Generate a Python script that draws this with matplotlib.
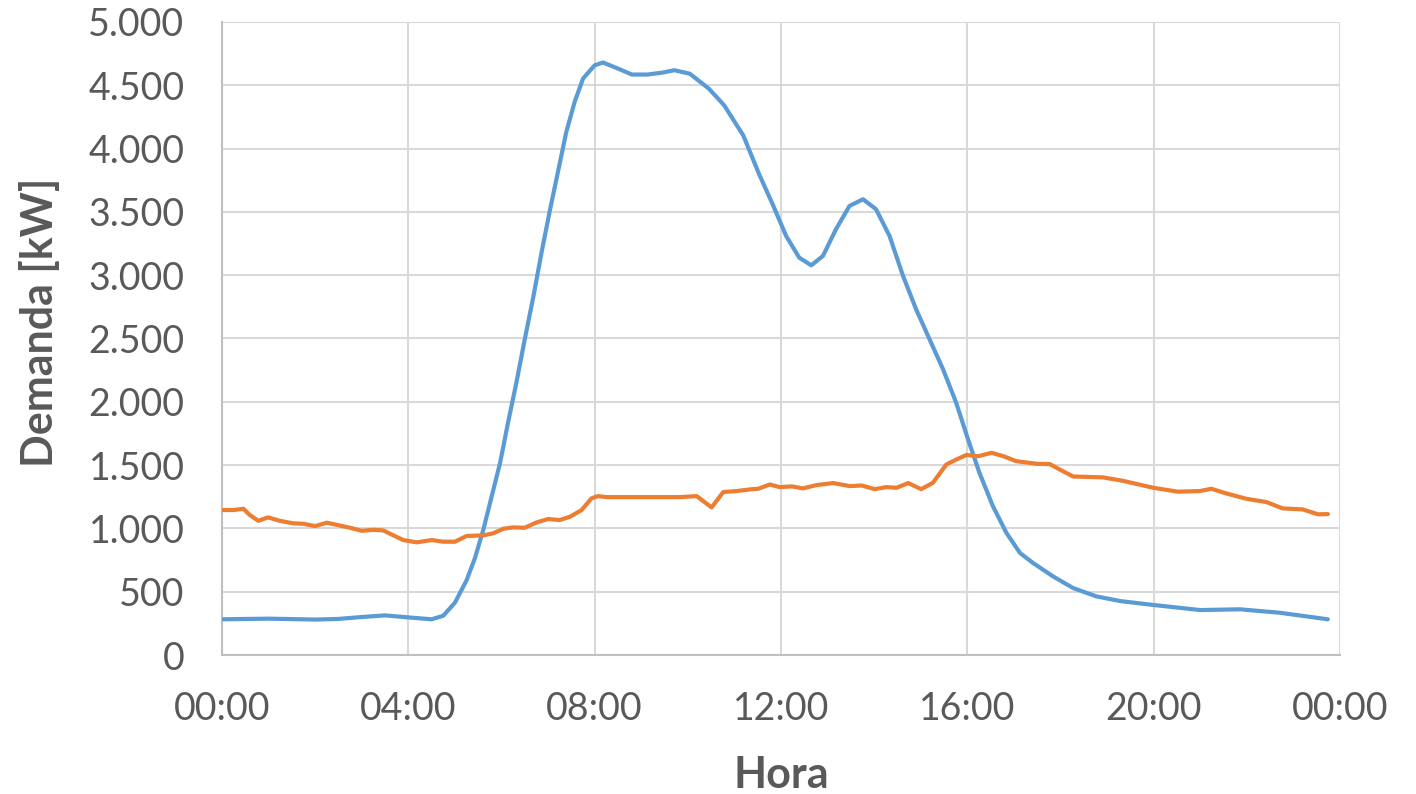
import matplotlib
matplotlib.use("Agg")
import matplotlib.pyplot as plt
from matplotlib.ticker import FuncFormatter

# Blue series (hours, kW)
blue_t = [0.0, 1.0, 2.0, 2.5, 3.0, 3.5, 4.0, 4.5, 4.75, 5.0, 5.25, 5.43, 5.61,
          5.79, 5.97, 6.14, 6.32, 6.5, 6.68, 6.86, 7.03, 7.21, 7.39, 7.57, 7.75,
          8.0, 8.18, 8.5, 8.8, 9.13, 9.45, 9.71, 10.04, 10.45, 10.78, 11.19,
          11.53, 11.82, 12.11, 12.39, 12.65, 12.9, 13.18, 13.47, 13.76, 14.04,
          14.33, 14.62, 14.9, 15.19, 15.48, 15.76, 16.0, 16.26, 16.55, 16.84,
          17.13, 17.41, 17.84, 18.27, 18.77, 19.3, 20.0, 21.0, 21.85, 22.7, 23.74]
blue_v = [282, 287, 280, 285, 300, 313, 297, 282, 310, 413, 590, 766, 990,
          1254, 1518, 1835, 2152, 2495, 2823, 3180, 3496, 3813, 4130, 4368, 4553,
          4658, 4680, 4632, 4585, 4585, 4600, 4619, 4592, 4474, 4342, 4104,
          3798, 3561, 3310, 3139, 3078, 3152, 3363, 3547, 3600, 3521,
          3310, 2994, 2731, 2493, 2256, 1993, 1720, 1439, 1175, 964,
          806, 727, 621, 529, 463, 425, 395, 355, 361, 334, 282]

# Orange series (hours, kW)
orange_t = [0.0, 0.24, 0.46, 0.6, 0.78, 0.99, 1.24, 1.53, 1.74, 2.0, 2.25, 2.53,
            2.75, 3.0, 3.25, 3.46, 3.68, 3.89, 4.18, 4.5, 4.75, 5.0, 5.25, 5.61,
            5.82, 6.04, 6.25, 6.5, 6.75, 7.0, 7.25, 7.47, 7.72, 7.93, 8.07, 8.26,
            9.83, 10.19, 10.51, 10.76, 11.05, 11.33, 11.51, 11.76, 11.97, 12.23,
            12.47, 12.76, 13.12, 13.48, 13.73, 14.01, 14.26, 14.48, 14.73, 15.01,
            15.26, 15.55, 15.77, 15.98, 16.23, 16.52, 16.77, 17.05, 17.5, 17.77,
            17.98, 18.27, 18.91, 19.34, 19.99, 20.52, 20.99, 21.24, 21.56, 21.99,
            22.42, 22.77, 23.2, 23.53, 23.74]
orange_v = [1145, 1145, 1155, 1105, 1060, 1087, 1060, 1040, 1037, 1018, 1045, 1023,
            1005, 981, 989, 984, 945, 908, 890, 908, 895, 895, 940, 945,
            961, 997, 1008, 1005, 1047, 1074, 1066, 1092, 1145, 1237, 1255, 1247,
            1247, 1255, 1166, 1287, 1295, 1308, 1313, 1347, 1326, 1332,
            1316, 1342, 1358, 1334, 1339, 1310, 1326, 1321, 1358, 1310,
            1360, 1505, 1545, 1580, 1570, 1597, 1571, 1531, 1510, 1508,
            1466, 1410, 1403, 1376, 1321, 1290, 1295, 1313, 1276, 1234,
            1208, 1158, 1150, 1111, 1113]

x_ticks = [0, 4, 8, 12, 16, 20, 24]
x_labels = ["00:00", "04:00", "08:00", "12:00", "16:00", "20:00", "00:00"]
y_ticks = list(range(0, 5001, 500))

txt = "#595959"
plt.rcParams['font.family'] = ['Lato', 'DejaVu Sans']

W, H = 1416, 794
fig = plt.figure(figsize=(W/100, H/100), dpi=100)
ax = fig.add_axes([222/W, 1-655/H, (1340-222)/W, (655-22)/H])

ax.plot(blue_t, blue_v, color="#5B9BD5", lw=3, solid_joinstyle="round", solid_capstyle="round", zorder=3)
ax.plot(orange_t, orange_v, color="#ED7D31", lw=3, solid_joinstyle="round", solid_capstyle="round", zorder=3)

ax.set_xlim(0, 24)
ax.set_ylim(0, 5000)
ax.set_xticks(x_ticks)
ax.set_xticklabels(x_labels)
ax.set_yticks(y_ticks)
ax.yaxis.set_major_formatter(FuncFormatter(lambda v, p: f"{int(v):,}".replace(",", ".")))

ax.grid(True, color="#D9D9D9", lw=1.5)
ax.set_axisbelow(True)
for s in ["top", "right"]:
    ax.spines[s].set_visible(False)
for s in ["left", "bottom"]:
    ax.spines[s].set_color("#BFBFBF")
    ax.spines[s].set_linewidth(1.5)
ax.tick_params(axis="both", length=0, labelsize=27, labelcolor=txt)
ax.tick_params(axis="x", pad=26)
ax.tick_params(axis="y", pad=27)

fig.text(781/W, 1-775/H, "Hora", fontsize=31, fontweight="bold", color=txt,
         ha="center", va="center")
fig.text(40/W, 1-322/H, "Demanda [kW]", fontsize=31, fontweight="bold", color=txt,
         ha="center", va="center", rotation=90)

fig.savefig("out.png", dpi=100)
